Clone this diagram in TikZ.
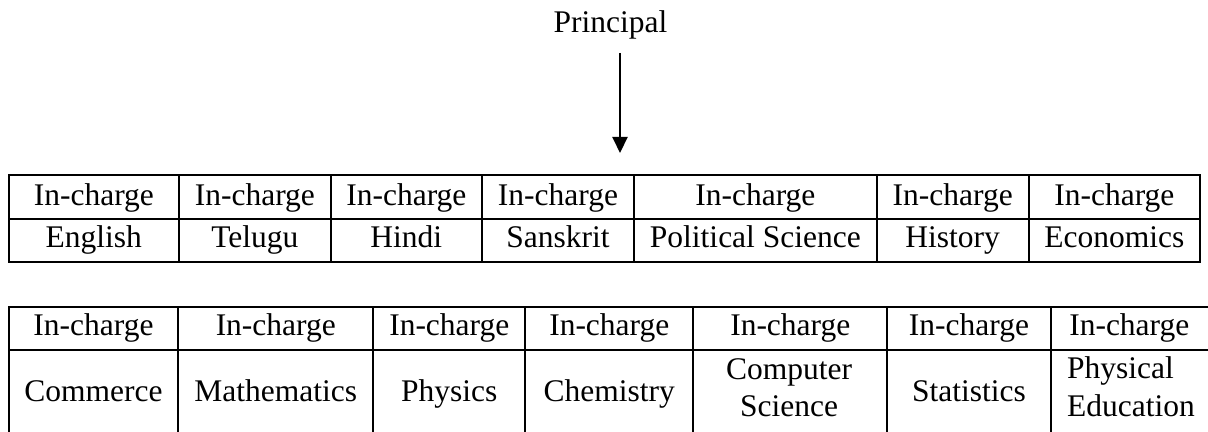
\documentclass[tikz,border=0pt]{standalone}
\usepackage{fontspec}
\setmainfont{Liberation Serif}
\usetikzlibrary{arrows.meta,positioning}

\tikzset{
  cellrule/.style={line width=1pt},
  celltext/.style={font=\fontsize{15.75}{16}\selectfont, anchor=base, inner sep=0pt},
}

\begin{document}
\begin{tikzpicture}[x=0.5pt,y=-0.5pt]
  \useasboundingbox (0,0) rectangle (1208,432);
  \clip (0,0) rectangle (1208,432);

  % principal
  \node[celltext] (principal) at (610.5,33) {Principal};
  \coordinate (pTail) at (620,53);
  \coordinate (pHead) at (620,153);
  \draw[line width=1pt,-{Triangle[width=7.5pt,length=8pt]}] (pTail) -- (pHead);

  % first table: languages and arts
  \draw[cellrule] (8.7,175) rectangle (1200,262);
  \draw[cellrule] (8.7,219.3) -- (1200,219.3);
  \foreach \x in {179,330.7,482,634,876.7,1028.7}
    \draw[cellrule] (\x,175) -- (\x,262);
  \foreach \x/\name/\subj in {93.85/eng/English, 254.85/tel/Telugu, 406.35/hin/Hindi,
      558/san/Sanskrit, 755.35/pol/Political Science, 952.7/his/History, 1114.35/eco/Economics}{
    \node[celltext] (\name Head) at (\x,205.7) {In-charge};
    \node[celltext] (\name) at (\x,248) {\subj};
  }

  % second table: commerce and sciences
  \draw[cellrule] (8.7,306.7) rectangle (1212,436);
  \draw[cellrule] (8.7,350) -- (1212,350);
  \foreach \x in {178.3,373.3,525.3,693.3,887.3,1050.7}
    \draw[cellrule] (\x,306.7) -- (\x,436);
  \foreach \x/\name in {93.5/com, 275.8/mat, 449.3/phy, 609.3/che, 790.3/cs, 969/sta, 1129.3/pe}
    \node[celltext] (\name Head) at (\x,335.7) {In-charge};
  \foreach \x/\name/\subj in {93.5/com/Commerce, 275.8/mat/Mathematics, 449.3/phy/Physics,
      609.3/che/Chemistry, 969/sta/Statistics}
    \node[celltext] (\name) at (\x,401.7) {\subj};
  \node[celltext] (csA) at (789,379.3) {Computer};
  \node[celltext] (csB) at (789,416) {Science};
  \node[celltext,anchor=base west] (peA) at (1066.7,378.3) {Physical};
  \node[celltext,anchor=base west] (peB) at (1066.7,416) {Education};
\end{tikzpicture}
\end{document}
